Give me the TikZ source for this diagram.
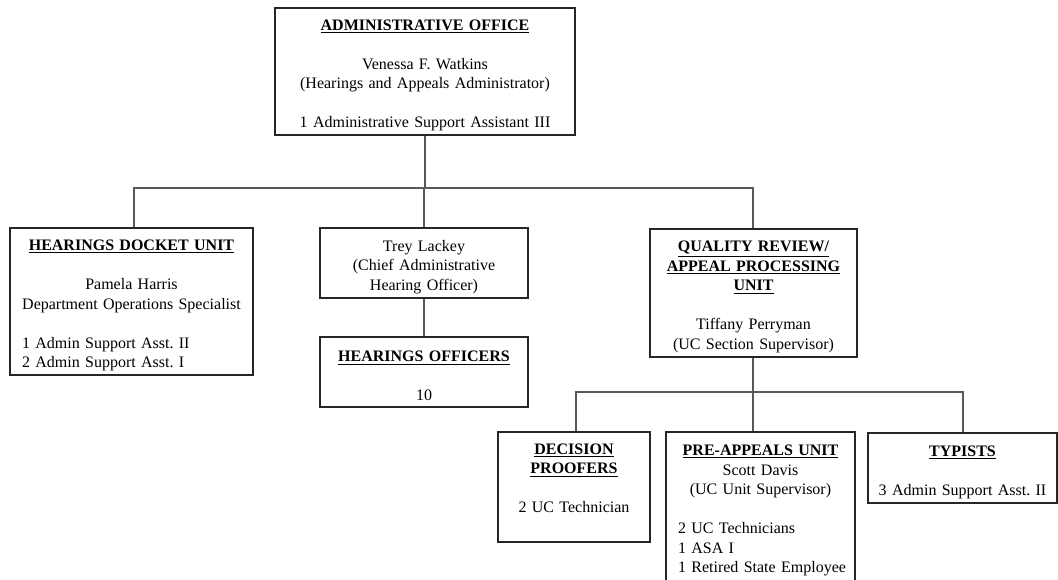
\documentclass[tikz,border=0pt]{standalone}
\usepackage{fontspec}
\setmainfont{Liberation Serif}
% bold, underlined unit heading
\newcommand{\hd}[1]{\textbf{\underline{#1}}}
% blank line between text groups
\newcommand{\gapline}{\\[14.6pt]}
% left-aligned line inside a centred box
\newcommand{\lline}[1]{\makebox[\linewidth][l]{#1}}
% body text of the boxes
\newcommand{\boxfont}{\fontsize{12}{14.6}\selectfont\frenchspacing\hyphenpenalty 10000\relax}
\begin{document}
\begin{tikzpicture}[x=0.75pt,y=-0.75pt,
  box/.style={draw=black!85, line width=0.9pt, inner sep=0pt, align=center,
    font=\boxfont,
    execute at begin node={\rule{0pt}{14pt}}},
  link/.style={draw=black!65, line width=0.8pt}]
\useasboundingbox (0,0) rectangle (1058,580);
\clip (0,0) rectangle (1058,580);

% top of the organisation
\node[box, minimum width=300*0.75pt, minimum height=127*0.75pt,
      text width=296*0.75pt] (admin) at (425,71.5)
  {\hd{ADMINISTRATIVE OFFICE}\gapline
   Venessa F. Watkins\\
   (Hearings and Appeals Administrator)\gapline
   1 Administrative Support Assistant III};

% second level
\node[box, minimum width=243*0.75pt, minimum height=147*0.75pt,
      text width=219*0.75pt] (docket) at (131.5,301.5)
  {\hd{HEARINGS DOCKET UNIT}\gapline
   Pamela Harris\\
   Department Operations Specialist\gapline
   \lline{1 Admin Support Asst. II}\\
   \lline{2 Admin Support Asst. I}};

\node[box, minimum width=208*0.75pt, minimum height=70*0.75pt,
      text width=204*0.75pt] (trey) at (424,263)
  {Trey Lackey\\
   (Chief Administrative\\
   Hearing Officer)};

\node[box, minimum width=208*0.75pt, minimum height=70*0.75pt,
      text width=204*0.75pt] (officers) at (424,372)
  {\hd{HEARINGS OFFICERS}\gapline
   10};

\node[box, minimum width=207*0.75pt, minimum height=128*0.75pt,
      text width=203*0.75pt] (qr) at (753.5,293)
  {\hd{QUALITY REVIEW/}\\
   \hd{APPEAL PROCESSING}\\
   \hd{UNIT}\gapline
   Tiffany Perryman\\
   (UC Section Supervisor)};

% third level
\node[box, minimum width=152*0.75pt, minimum height=110*0.75pt,
      text width=148*0.75pt] (proofers) at (574,487)
  {\hd{DECISION}\\
   \hd{PROOFERS}\gapline
   2 UC Technician\\[4.5pt]
   \mbox{}};

\node[box, minimum width=189*0.75pt, minimum height=149*0.75pt,
      text width=165*0.75pt] (preappeals) at (760.5,506.5)
  {\hd{PRE-APPEALS UNIT}\\
   Scott Davis\\
   (UC Unit Supervisor)\gapline
   \lline{2 UC Technicians}\\
   \lline{1 ASA I}\\
   \lline{1 Retired State Employee}};

\node[box, minimum width=189*0.75pt, minimum height=70*0.75pt,
      text width=185*0.75pt] (typists) at (962.5,468)
  {\hd{TYPISTS}\gapline
   3 Admin Support Asst. II};

% reporting lines
\coordinate (busL) at (134,188);
\coordinate (busR) at (753,188);
\draw[link] (admin.south) -- (admin.south |- busL);
\draw[link] (busL |- docket.north) -- (busL) -- (busR) -- (busR |- qr.north);
\draw[link] (trey.north |- busL) -- (trey.north);
\draw[link] (trey.south) -- (officers.north);

\coordinate (lowL) at (576,392);
\coordinate (lowR) at (963,392);
\draw[link] (qr.south -| busR) -- (busR |- lowL);
\draw[link] (lowL |- proofers.north) -- (lowL) -- (lowR) -- (lowR |- typists.north);
\draw[link] (busR |- lowL) -- (busR |- preappeals.north);
\end{tikzpicture}
\end{document}
